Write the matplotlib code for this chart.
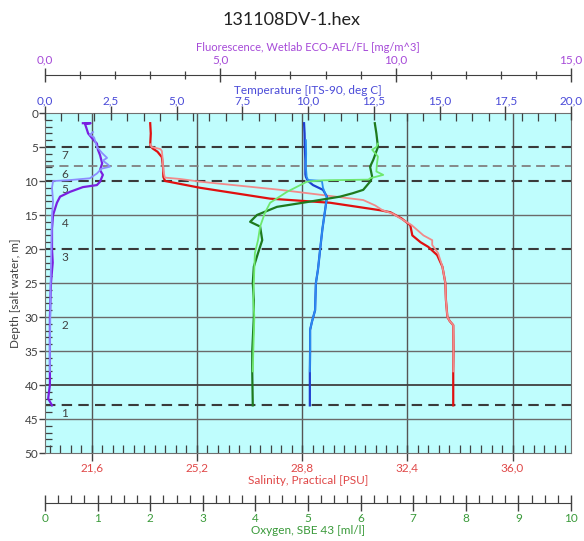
import matplotlib
matplotlib.use("Agg")
import matplotlib.pyplot as plt
from matplotlib.ticker import MultipleLocator, FixedLocator, FuncFormatter
import matplotlib.transforms as mtransforms

plt.rcParams['font.family'] = ['Lato', 'DejaVu Sans']

# ---------------- data ----------------
title = "131108DV-1.hex"

# Fluorescence [mg/m^3]
fl_dn_depth = [1.5, 1.5, 1.6, 2.2, 3.0, 3.7, 4.5, 5.4, 6.2, 7.4, 8.4, 9.1, 10.1, 10.6, 10.9, 11.6, 12.3, 13.2, 15.0, 17.0, 20.0, 22.0, 25.0, 30.0, 35.0, 40.0, 42.0, 43.0]
fl_dn_val = [1.08, 1.30, 1.14, 1.18, 1.23, 1.34, 1.48, 1.51, 1.57, 1.63, 1.57, 1.65, 1.57, 1.48, 1.08, 0.71, 0.43, 0.34, 0.23, 0.20, 0.20, 0.22, 0.17, 0.14, 0.14, 0.14, 0.09, 0.20]
fl_up_depth = [2.8, 3.2, 3.6, 5.0, 5.9, 6.6, 7.0, 7.6, 7.9, 8.2, 8.4, 8.9, 9.6, 9.9, 10.0, 11.0, 13.0, 15.0, 20.0, 25.0, 30.0, 35.0, 38.0]
fl_up_val = [1.37, 1.28, 1.40, 1.48, 1.63, 1.77, 1.65, 1.80, 1.85, 1.60, 1.57, 1.48, 1.28, 0.63, 0.23, 0.20, 0.23, 0.20, 0.18, 0.16, 0.15, 0.14, 0.14]

# Temperature [ITS-90, deg C]
t_dn_depth = [1.5, 3.0, 5.0, 7.0, 9.0, 9.4, 10.0, 10.6, 11.3, 12.3, 14.3, 17.0, 20.1, 23.0, 25.0, 27.5, 29.0, 30.7, 31.9, 35.0, 38.0, 43.0]
t_dn_val = [9.85, 9.87, 9.88, 9.90, 9.90, 9.92, 10.00, 10.19, 10.57, 10.72, 10.65, 10.55, 10.46, 10.38, 10.30, 10.28, 10.27, 10.15, 10.08, 10.08, 10.07, 10.07]
t_up_depth = [4.0, 6.0, 8.0, 9.4, 9.85, 10.0, 11.0, 12.5, 14.3, 17.0, 20.1, 23.0, 25.0, 27.5, 29.0, 30.7, 31.9, 35.0, 38.0]
t_up_val = [9.92, 9.93, 9.92, 9.95, 10.00, 10.53, 10.57, 10.72, 10.65, 10.55, 10.46, 10.38, 10.30, 10.28, 10.27, 10.15, 10.08, 10.08, 10.07]

# Salinity, Practical [PSU]
s_dn_depth = [1.5, 3.0, 4.7, 5.2, 5.7, 6.5, 8.0, 9.4, 10.0, 11.0, 12.6, 13.2, 14.3, 14.6, 15.5, 16.5, 18.0, 19.0, 19.7, 20.9, 22.6, 25.0, 27.5, 30.0, 30.6, 31.2, 35.0, 38.0, 43.0]
s_dn_val = [23.60, 23.62, 23.60, 23.68, 23.85, 24.00, 24.04, 24.05, 24.11, 25.31, 27.71, 29.76, 31.47, 31.82, 32.20, 32.50, 32.57, 32.85, 33.12, 33.42, 33.60, 33.70, 33.72, 33.77, 33.85, 33.97, 33.98, 33.97, 33.97]
s_up_depth = [4.6, 5.0, 5.3, 5.6, 6.5, 8.5, 9.5, 9.7, 10.1, 11.3, 12.8, 13.6, 14.3, 14.8, 16.5, 18.0, 18.7, 19.4, 20.6, 22.6, 25.0, 27.5, 30.0, 30.6, 31.2, 35.0, 38.0]
s_up_val = [23.60, 23.65, 23.95, 24.00, 24.02, 24.05, 24.10, 24.62, 25.31, 28.05, 30.89, 31.30, 31.55, 31.90, 32.55, 32.95, 33.25, 33.25, 33.45, 33.60, 33.70, 33.72, 33.77, 33.85, 33.97, 33.98, 33.97]

# Oxygen, SBE 43 [ml/l]
o_dn_depth = [1.5, 3.0, 5.0, 6.9, 7.9, 9.4, 10.1, 11.3, 11.8, 12.3, 13.1, 13.8, 15.0, 16.0, 16.7, 18.7, 20.6, 22.6, 25.0, 27.5, 30.0, 35.0, 38.0, 43.0]
o_dn_val = [6.27, 6.30, 6.33, 6.24, 6.18, 6.22, 6.18, 6.05, 5.85, 5.61, 4.98, 4.41, 4.03, 3.90, 4.09, 4.13, 4.05, 3.97, 3.95, 3.97, 3.97, 3.94, 3.94, 3.95]
o_up_depth = [4.5, 5.0, 5.4, 6.4, 7.5, 8.6, 9.1, 9.6, 9.8, 9.9, 10.1, 11.6, 13.2, 14.7, 16.7, 18.7, 20.6, 25.0, 27.5, 30.0, 35.0, 38.0]
o_up_val = [6.33, 6.30, 6.22, 6.33, 6.31, 6.30, 6.43, 6.18, 6.15, 5.29, 4.98, 4.60, 4.28, 4.18, 4.09, 4.05, 3.99, 3.97, 3.96, 3.98, 3.96, 3.95]

# bottle firing depths and labels
bottle_depths = [43, 30, 20, 15, 10, 7.8, 5]
bottle_labels = ["1", "2", "3", "4", "5", "6", "7"]
dashed_dark = [5, 10, 20, 43]
dashed_light = [7.8]
solid_grid = [15, 25, 30, 35, 45]
dark_grid = [40]

sal_ticks = [21.6, 25.2, 28.8, 32.4, 36.0]

# ---------------- styles ----------------
C_FL = '#a64ad8'
C_T = '#4a4ad8'
C_S = '#e04848'
C_O = '#3a9a3a'
TICKC = '#404040'

fig = plt.figure(figsize=(5.84, 5.41), dpi=100)
L, R, B, T = 45 / 584, 571 / 584, 1 - 453 / 541, 1 - 113 / 541
ax = fig.add_axes([L, B, R - L, T - B])
ax.set_facecolor('#bffdfd')
ax.set_ylim(50, 0)
ax.set_xlim(20, 38)

def comma(fmt):
    return FuncFormatter(lambda v, p: (fmt % v).replace('.', ','))

# salinity axis (bottom)
ax.xaxis.set_major_locator(FixedLocator(sal_ticks))
ax.xaxis.set_minor_locator(MultipleLocator(0.36))
ax.xaxis.set_major_formatter(comma('%.1f'))
ax.tick_params(axis='x', which='major', direction='inout', length=12, width=1,
               color=TICKC, labelcolor=C_S, labelsize=8.5, pad=1)
ax.tick_params(axis='x', which='minor', direction='in', length=6, width=0.9, color=TICKC)
ax.set_xlabel('Salinity, Practical [PSU]', color=C_S, fontsize=8.5, labelpad=1)
for xv in sal_ticks:
    ax.axvline(xv, color='#555555', lw=1.0, zorder=1)

# depth axis
ax.yaxis.set_major_locator(MultipleLocator(5))
ax.yaxis.set_minor_locator(MultipleLocator(1))
ax.tick_params(axis='y', which='major', direction='out', length=4, width=1,
               color=TICKC, labelcolor='#404040', labelsize=8.5, pad=1)
ax.tick_params(axis='y', which='minor', direction='in', length=5, width=0.9, color=TICKC)
ax.set_ylabel('Depth [salt water, m]', color='#404040', fontsize=8.5)
ax.yaxis.set_label_coords(-0.045, 0.47)

for d in solid_grid:
    ax.axhline(d, color='#6a6a6a', lw=1.0, zorder=1)
for d in dark_grid:
    ax.axhline(d, color='#404040', lw=1.3, zorder=1)
for d in dashed_dark:
    ax.axhline(d, color='#3a3a3a', lw=1.5, ls=(0, (5, 3)), zorder=1.5)
for d in dashed_light:
    ax.axhline(d, color='#808080', lw=1.3, ls=(0, (5, 3)), zorder=1.5)
trans = mtransforms.blended_transform_factory(ax.transAxes, ax.transData)
for d, lab in zip(bottle_depths, bottle_labels):
    ax.text(0.038, d + 1.2, lab, transform=trans, ha='center', va='center',
            fontsize=8.5, color='#404040')

for sp in ax.spines.values():
    sp.set_color('#707070')

ax.plot(s_dn_val, s_dn_depth, color='#e01010', lw=1.6, zorder=3)
ax.plot(s_up_val, s_up_depth, color='#f28a8a', lw=1.3, zorder=3)

# temperature axis (top)
axt = ax.twiny()
axt.set_xlim(0, 20)
axt.xaxis.set_major_locator(MultipleLocator(2.5))
axt.xaxis.set_minor_locator(MultipleLocator(0.625))
axt.xaxis.set_major_formatter(comma('%.1f'))
axt.tick_params(axis='x', which='major', direction='inout', length=10, width=1,
                color=TICKC, labelcolor=C_T, labelsize=8.5, pad=0)
axt.tick_params(axis='x', which='minor', direction='in', length=6, width=0.9, color=TICKC)
axt.set_xlabel('Temperature [ITS-90, deg C]', color=C_T, fontsize=8.5, labelpad=0.5)
for sp in axt.spines.values():
    sp.set_visible(False)
axt.plot(t_dn_val, t_dn_depth, color='#1f3fd0', lw=1.6)
axt.plot(t_up_val, t_up_depth, color='#2a8cf0', lw=1.3)

# oxygen axis (bottom, offset)
axo = ax.twiny()
axo.set_xlim(0, 10)
axo.xaxis.set_ticks_position('bottom')
axo.xaxis.set_label_position('bottom')
axo.spines['bottom'].set_position(('outward', 36))
for k in ['top', 'left', 'right']:
    axo.spines[k].set_visible(False)
axo.spines['bottom'].set_color('#404040')
axo.xaxis.set_major_locator(MultipleLocator(1))
axo.xaxis.set_minor_locator(MultipleLocator(0.25))
axo.tick_params(axis='x', which='major', direction='inout', length=12, width=1,
                color=TICKC, labelcolor=C_O, labelsize=8.5, pad=1)
axo.tick_params(axis='x', which='minor', direction='in', length=6, width=0.9, color=TICKC)
axo.set_xlabel('Oxygen, SBE 43 [ml/l]', color=C_O, fontsize=8.5, labelpad=1)
axo.plot(o_dn_val, o_dn_depth, color='#1e7a1e', lw=1.6)
axo.plot(o_up_val, o_up_depth, color='#6ee86e', lw=1.3)

# fluorescence axis (top, offset)
axf = ax.twiny()
axf.set_xlim(0, 15)
axf.spines['top'].set_position(('outward', 27.4))
for k in ['bottom', 'left', 'right']:
    axf.spines[k].set_visible(False)
axf.spines['top'].set_color('#404040')
axf.xaxis.set_major_locator(MultipleLocator(5))
axf.xaxis.set_minor_locator(MultipleLocator(1))
axf.xaxis.set_major_formatter(comma('%.1f'))
axf.tick_params(axis='x', which='major', direction='inout', length=10, width=1,
                color=TICKC, labelcolor=C_FL, labelsize=8.5, pad=1.5)
axf.tick_params(axis='x', which='minor', direction='inout', length=6, width=0.9, color=TICKC)
axf.set_xlabel('Fluorescence, Wetlab ECO-AFL/FL [mg/m^3]', color=C_FL, fontsize=8, labelpad=3)
axf.plot(fl_dn_val, fl_dn_depth, color='#7a1fe0', lw=1.6)
axf.plot(fl_up_val, fl_up_depth, color='#8c8cff', lw=1.3)

fig.text(0.5, 1 - 20 / 541, title, ha='center', va='center', fontsize=13, color='#222222')

fig.savefig('out.png', dpi=100)
